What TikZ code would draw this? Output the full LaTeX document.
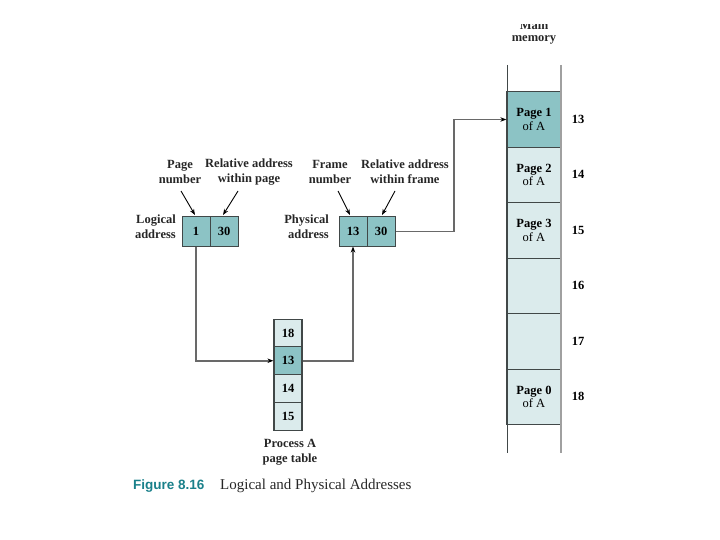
\documentclass[tikz,border=0pt]{standalone}
\usepackage{fontspec}
\setmainfont{Liberation Serif}
\newfontfamily\capsans{Liberation Sans}
\usetikzlibrary{arrows.meta,calc}
\definecolor{darkcell}{RGB}{140,195,197}
\definecolor{lightcell}{RGB}{219,235,236}
\definecolor{edgegray}{RGB}{65,72,72}
\definecolor{linegray}{RGB}{105,105,105}
\definecolor{shadegray}{RGB}{160,160,160}
\definecolor{figteal}{RGB}{25,128,138}
\begin{document}
\begin{tikzpicture}[x=1pt,y=-1pt,
  lab/.style={font=\fontsize{12.5}{15}\selectfont\bfseries, align=center, inner sep=0pt, text=black!85},
  cell/.style={draw=edgegray, line width=1pt, fill=darkcell, minimum width=28pt, minimum height=29pt, inner sep=0pt, font=\fontsize{12.5}{14}\selectfont\bfseries},
  ptcell/.style={draw=edgegray, line width=1.2pt, fill=lightcell, minimum width=28pt, minimum height=27.75pt, inner sep=0pt, font=\fontsize{12.5}{14}\selectfont\bfseries},
  memcell/.style={draw=edgegray, line width=1.3pt, fill=lightcell, minimum width=54pt, minimum height=55.5pt, inner sep=0pt, align=center, font=\fontsize{12.5}{14}\selectfont\bfseries},
  num/.style={font=\fontsize{12.5}{14}\selectfont\bfseries, inner sep=0pt},
  conn/.style={draw=linegray, line width=1.5pt, -{Stealth[length=6pt,width=4.5pt,color=black]}},
  tip/.style={draw=black, line width=0.9pt, -{Stealth[length=6pt,width=4.5pt]}}
]
\useasboundingbox (0,0) rectangle (720,540);

% Main memory heading
\begin{scope}
  \clip (480,25) rectangle (600,60);
  \node[lab] (mainlbl) at (534,25) {Main};
\end{scope}
\node[lab] (memlbl) at (534,40) {memory};

% Memory cells
\node[memcell, fill=darkcell] (m13) at (534,119.5) {Page 1\\[-0.5pt]{\mdseries of A}};
\node[memcell] (m14) at (534,175) {Page 2\\[-0.5pt]{\mdseries of A}};
\node[memcell] (m15) at (534,230.5) {Page 3\\[-0.5pt]{\mdseries of A}};
\node[memcell] (m16) at (534,286) {};
\node[memcell] (m17) at (534,341.5) {};
\node[memcell] (m18) at (534,397) {Page 0\\[-0.5pt]{\mdseries of A}};
\coordinate (memtl) at (507,65);
\coordinate (membl) at (507,453);
\coordinate (memtr) at (561,65);
\coordinate (membr) at (561,453);
\draw[edgegray, line width=1pt] (memtl) -- (membl);
\draw[shadegray, line width=2.2pt] (memtr) -- (membr);

\node[num] (n13) at (578,119) {13};
\node[num] (n14) at (578,174) {14};
\node[num] (n15) at (578,230) {15};
\node[num] (n16) at (578,285) {16};
\node[num] (n17) at (578,341) {17};
\node[num] (n18) at (578,396) {18};

% Logical address
\node[cell] (l1) at (196,231.5) {1};
\node[cell] (l30) at (224,231.5) {30};
\node[lab, align=right, anchor=east] (llbl) at (176,227) {Logical\\address};

% Physical address
\node[cell] (p13) at (353,231.5) {13};
\node[cell] (p30) at (381,231.5) {30};
\node[lab, align=right, anchor=east] (plbl) at (329,227) {Physical\\address};

% Top labels
\node[lab] (pn) at (180,172) {Page\\number};
\node[lab] (rp) at (249,172) {Relative address\\within page};
\node[lab] (fn) at (330,172) {Frame\\number};
\node[lab] (rf) at (405,172) {Relative address\\within frame};

\coordinate (pnt) at (181,191);
\coordinate (rpt) at (238,191);
\coordinate (fnt) at (338,191);
\coordinate (rft) at (395,191);
\draw[tip] (pnt) -- ($(l1.north)+(-1,-1.5)$);
\draw[tip] (rpt) -- ($(l30.north)+(-1,-1.5)$);
\draw[tip] (fnt) -- ($(p13.north)+(-3,-1.5)$);
\draw[tip] (rft) -- ($(p30.north)+(1,-1.5)$);

% Page table
\node[ptcell] (t18) at (288,333) {18};
\node[ptcell, fill=darkcell] (t13) at (288,360.75) {13};
\node[ptcell] (t14) at (288,388.5) {14};
\node[ptcell] (t15) at (288,416.25) {15};
\node[lab] (ptlbl) at (290,452) {Process A\\page table};

% Connectors
\draw[conn] (l1.south) |- (t13.west);
\draw[conn] (t13.east) -| (p13.south);
\coordinate (bend) at (454,231.5);
\draw[conn] (p30.east) -- (bend) |- (m13.west);

% Caption
\node[anchor=west, inner sep=0pt, font=\capsans\bfseries\fontsize{13.5}{16}\selectfont, text=figteal] (figno) at (133,486) {Figure 8.16};
\node[anchor=west, inner sep=0pt, font=\fontsize{15}{18}\selectfont, text=black!85] (figcap) at (220,486) {Logical and Physical Addresses};
\end{tikzpicture}
\end{document}
